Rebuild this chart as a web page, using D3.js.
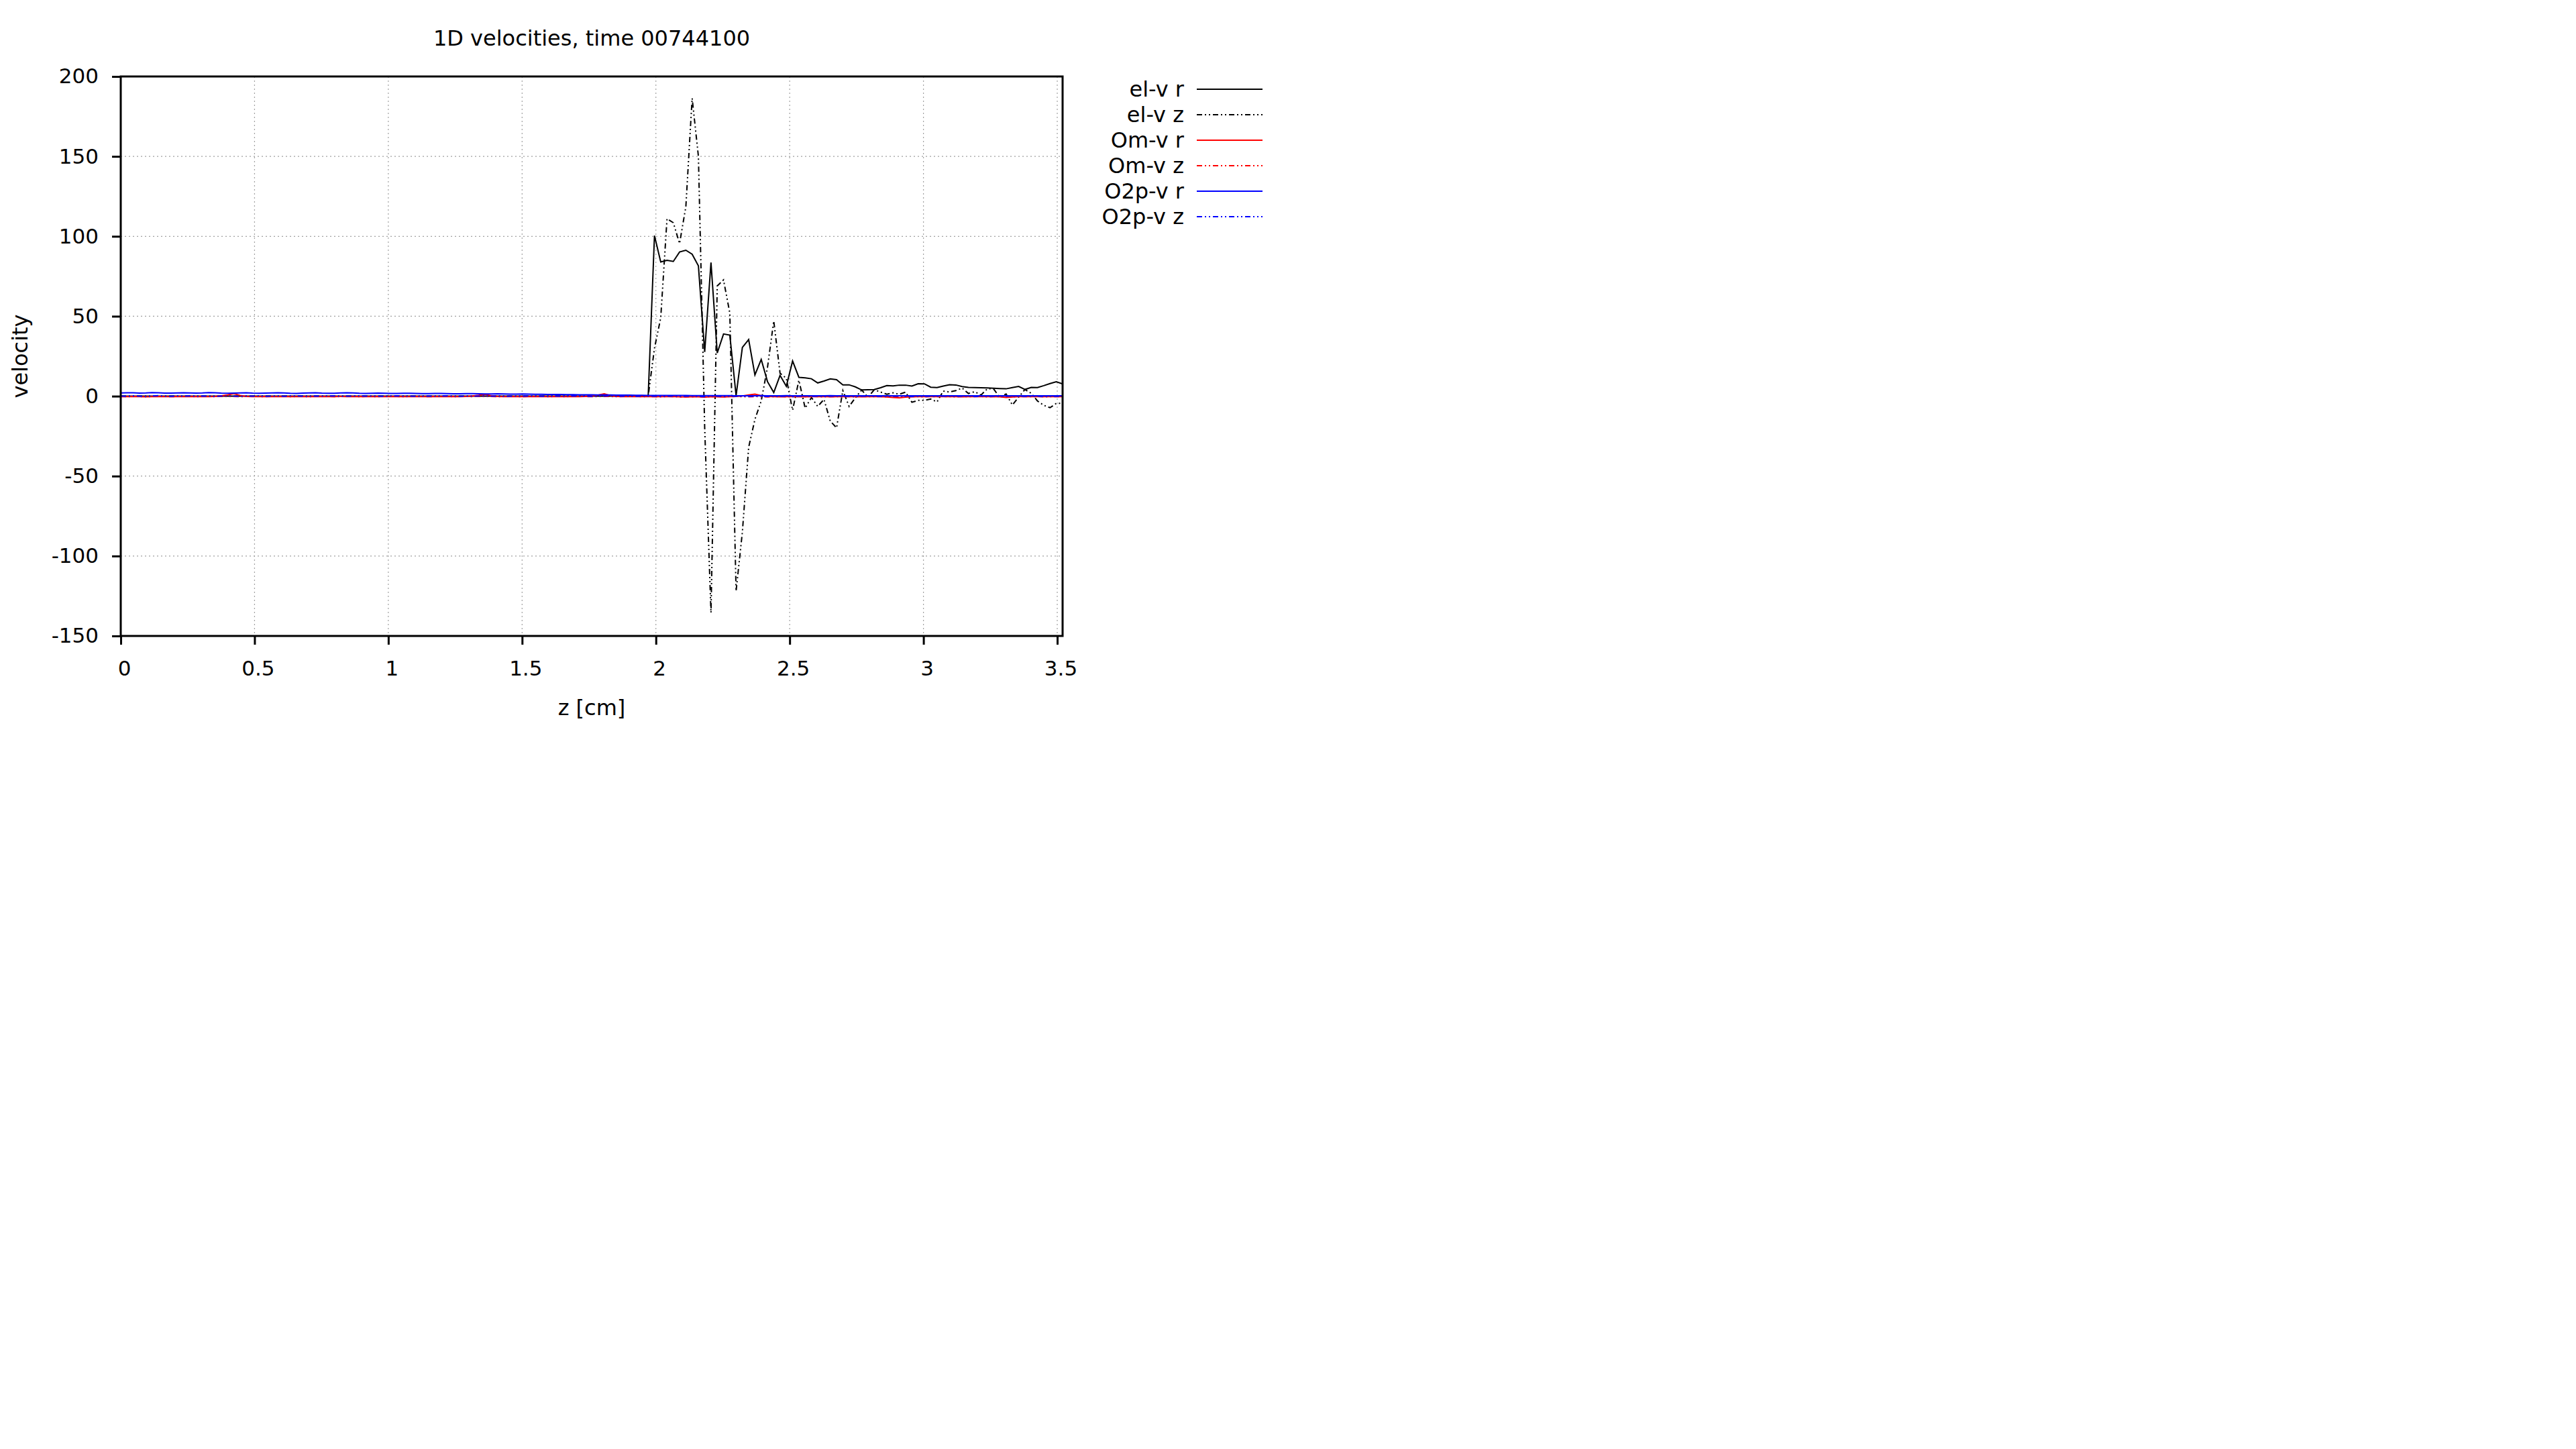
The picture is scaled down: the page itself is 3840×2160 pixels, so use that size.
<!DOCTYPE html>
<html><head><meta charset="utf-8">
<script src="https://cdn.jsdelivr.net/npm/d3@7"></script>
<style>
html,body{margin:0;padding:0;background:#fff;}
svg{display:block;}
text{font-family:'DejaVu Sans',sans-serif;fill:#000;}
</style>
</head><body>
<svg id="chart" width="3840" height="2160"></svg>
<script>
// ---- data ----
const zGrid = [
0.0000,0.0235,0.0469,0.0704,0.0939,0.1173,0.1408,0.1643,0.1877,0.2112,
0.2347,0.2581,0.2816,0.3051,0.3285,0.3520,0.3755,0.3989,0.4224,0.4459,
0.4693,0.4928,0.5163,0.5397,0.5632,0.5867,0.6101,0.6336,0.6571,0.6805,
0.7040,0.7275,0.7509,0.7744,0.7979,0.8213,0.8448,0.8683,0.8917,0.9152,
0.9387,0.9621,0.9856,1.0091,1.0325,1.0560,1.0795,1.1029,1.1264,1.1499,
1.1733,1.1968,1.2203,1.2437,1.2672,1.2907,1.3141,1.3376,1.3611,1.3845,
1.4080,1.4315,1.4549,1.4784,1.5019,1.5253,1.5488,1.5723,1.5957,1.6192,
1.6427,1.6661,1.6896,1.7131,1.7365,1.7600,1.7835,1.8069,1.8304,1.8539,
1.8773,1.9008,1.9243,1.9477,1.9712,1.9947,2.0181,2.0416,2.0651,2.0885,
2.1120,2.1355,2.1589,2.1824,2.2059,2.2293,2.2528,2.2763,2.2997,2.3232,
2.3467,2.3701,2.3936,2.4171,2.4405,2.4640,2.4875,2.5109,2.5344,2.5579,
2.5813,2.6048,2.6283,2.6517,2.6752,2.6987,2.7221,2.7456,2.7691,2.7925,
2.8160,2.8395,2.8629,2.8864,2.9099,2.9333,2.9568,2.9803,3.0037,3.0272,
3.0507,3.0741,3.0976,3.1211,3.1445,3.1680,3.1915,3.2149,3.2384,3.2619,
3.2853,3.3088,3.3323,3.3557,3.3792,3.4027,3.4261,3.4496,3.4731,3.4965,
3.5200];

const elVr = [
0,0,0,0,0,0,0,0,0,0,
0,0,0,0,0,0,0,0,0,0,
0,0,0,0,0,0,0,0,0,0,
0,0,0,0,0,0,0,0,0,0,
0,0,0,0,0,0,0,0,0,0,
0,0,0,0,0,0,0,0,0,0,
0,0,0,0,0,0,0,0,0,0,
0,0,0,0,0,0,0,0,0,0,
0,0,0,0,0,100.4,84.0,85.0,84.3,90.2,
91.3,88.8,81.5,27.7,83.6,27.0,38.9,38.2,0.4,30.5,
35.4,13.3,23.0,9.1,2.3,13.0,6.2,22.0,11.8,11.5,
10.9,8.3,9.5,10.8,10.3,7.1,7.1,5.8,3.9,4.0,
4.1,5.3,6.6,6.4,6.9,6.9,6.3,7.8,7.7,5.6,
5.4,6.3,7.2,7.0,6.0,5.5,5.4,5.3,5.2,5.0,
4.8,4.6,5.4,6.1,4.2,5.5,5.4,6.6,7.9,9.0,
7.7];

const elVz = [
0,0,0,0,0,0,0,0,0,0,
0,0,0,0,0,0,0,0,0,0,
0,0,0,0,0,0,0,0,0,0,
0,0,0,0,0,0,0,0,0,0,
0,0,0,0,0,0,0,0,0,0,
0,0,0,0,0,0,0,0,0,0,
0,0,0,0,0,0,0,0,0,0,
0,0,0,0,0,0,0,0,0,0,
0,0,0,0,0,30.0,49.0,111.0,108.5,95.5,
118.6,186.4,150.0,-20.0,-135.5,69.0,72.7,52.0,-122.0,-85.0,
-32.0,-14.5,-3.0,18.0,47.0,14.4,11.2,-8.8,10.0,-7.5,
-0.8,-6.4,-2.0,-15.6,-19.8,3.5,-6.4,-1.0,3.9,-0.7,
4.0,2.6,1.2,2.1,1.2,2.5,-3.8,-2.6,-2.6,-1.8,
-3.6,3.2,2.6,3.5,5.1,1.7,2.8,0.7,4.6,4.6,
-0.8,1.4,-5.5,-0.6,4.2,1.8,-3.0,-5.7,-7.2,-4.5,
-4.5];

const omVr = [
-0.3,-0.3,-0.2,-0.3,-0.4,-0.3,-0.2,-0.3,-0.3,-0.2,
-0.3,-0.3,-0.2,-0.3,-0.3,-0.2,0.2,0.8,1.6,0.5,
-0.2,-0.3,-0.3,-0.2,-0.3,-0.3,-0.2,-0.3,-0.3,-0.2,
-0.3,-0.3,-0.2,-0.3,-0.3,-0.2,-0.3,-0.3,-0.2,-0.3,
-0.3,-0.2,-0.3,-0.3,-0.2,-0.3,-0.3,-0.2,-0.3,-0.3,
-0.2,-0.3,-0.3,-0.2,-0.3,-0.2,0.1,0.6,1.2,0.3,
-0.2,-0.3,-0.3,-0.2,-0.3,-0.3,-0.2,-0.3,-0.3,-0.2,
-0.3,-0.3,-0.2,-0.3,-0.2,0.2,0.7,1.5,0.4,-0.2,
-0.3,-0.3,-0.2,-0.3,-0.3,-0.2,-0.3,-0.3,-0.2,-0.4,
-0.5,-0.3,-0.4,-0.6,-0.3,-0.4,-0.5,-0.3,-0.2,0.1,
0.8,1.3,0.4,-0.2,-0.3,-0.4,-0.3,-0.2,-0.3,-0.4,
-0.3,-0.3,-0.2,-0.4,-0.3,-0.3,-0.2,-0.3,-0.4,-0.3,
-0.3,-0.3,-0.5,-0.8,-1.0,-0.6,-0.4,-0.3,-0.3,-0.3,
-0.3,-0.2,-0.3,-0.3,-0.4,-0.3,-0.3,-0.2,-0.3,-0.3,
-0.4,-0.8,-0.5,-0.3,-0.3,-0.2,-0.3,-0.3,-0.3,-0.2,
-0.3];

const omVz = [
-0.2,-0.3,-0.1,-0.2,-0.3,-0.2,-0.1,-0.2,-0.3,-0.2,
-0.2,-0.1,-0.3,-0.2,-0.2,-0.3,-0.1,-0.2,-0.2,-0.3,
-0.2,-0.1,-0.2,-0.3,-0.2,-0.2,-0.1,-0.3,-0.2,-0.2,
-0.3,-0.2,-0.1,-0.2,-0.3,-0.2,-0.2,-0.1,-0.3,-0.2,
-0.2,-0.3,-0.1,-0.2,-0.2,-0.3,-0.2,-0.1,-0.2,-0.3,
-0.2,-0.2,-0.1,-0.3,-0.2,-0.2,-0.3,-0.1,-0.2,-0.2,
-0.3,-0.2,-0.1,-0.2,-0.3,-0.2,-0.2,-0.1,-0.3,-0.2,
-0.2,-0.3,-0.1,-0.2,-0.2,-0.3,-0.2,-0.1,-0.2,-0.3,
-0.2,-0.2,-0.1,-0.3,-0.2,-0.3,-0.4,-0.2,-0.3,-0.5,
-0.3,-0.4,-0.2,-0.5,-0.3,-0.2,-0.4,-0.3,-0.2,-0.3,
-0.4,-0.2,-0.3,-0.5,-0.3,-0.2,-0.4,-0.3,-0.2,-0.3,
-0.2,-0.3,-0.4,-0.2,-0.3,-0.2,-0.3,-0.4,-0.2,-0.3,
-0.3,-0.2,-0.4,-0.3,-0.5,-0.3,-0.2,-0.3,-0.4,-0.2,
-0.3,-0.2,-0.3,-0.4,-0.2,-0.3,-0.3,-0.2,-0.4,-0.3,
-0.2,-0.3,-0.4,-0.3,-0.2,-0.3,-0.2,-0.4,-0.3,-0.2,
-0.3];

const o2pVr = [
2.0,2.1,2.1,1.9,2.0,2.2,2.1,1.9,1.9,2.0,
2.1,2.0,1.9,2.0,2.2,2.1,1.9,1.8,1.9,2.0,
2.1,1.9,1.8,1.9,2.0,2.1,2.0,1.8,1.7,1.9,
2.0,2.1,1.9,1.8,1.8,2.0,2.1,2.0,1.8,1.7,
1.8,1.9,1.8,1.7,1.7,1.8,1.8,1.7,1.6,1.6,
1.7,1.7,1.6,1.5,1.5,1.6,1.6,1.5,1.4,1.4,
1.5,1.4,1.3,1.3,1.4,1.3,1.2,1.2,1.1,1.1,
1.1,1.0,1.0,0.9,0.9,0.9,0.8,0.8,0.8,0.7,
0.7,0.7,0.6,0.6,0.5,0.5,0.5,0.4,0.4,0.4,
0.4,0.3,0.3,0.3,0.3,0.3,0.3,0.3,0.2,0.2,
0.2,0.2,0.3,0.2,0.2,0.2,0.3,0.2,0.2,0.2,
0.2,0.2,0.2,0.3,0.2,0.2,0.2,0.2,0.2,0.2,
0.2,0.2,0.2,0.2,0.2,0.2,0.2,0.2,0.2,0.2,
0.2,0.2,0.2,0.2,0.2,0.2,0.2,0.2,0.2,0.2,
0.2,0.2,0.2,0.2,0.2,0.2,0.2,0.2,0.2,0.2,
0.2];

const o2pVz = [
0.1,-0.1,0.2,0.0,-0.2,0.1,0.3,0.0,-0.1,0.1,
0.0,0.2,-0.1,0.1,0.0,-0.2,0.1,0.2,0.0,-0.1,
0.1,0.0,0.2,-0.1,0.0,0.1,-0.1,0.2,0.1,0.0,
-0.1,0.1,0.0,0.2,0.1,-0.1,0.0,0.1,0.2,0.0,
0.1,0.0,-0.1,0.1,0.2,0.0,0.1,-0.1,0.0,0.1,
0.0,0.1,0.2,0.0,-0.1,0.1,0.0,0.1,0.2,0.0,
0.1,-0.1,0.0,0.1,0.0,0.2,0.1,0.0,-0.1,0.1,
0.0,0.1,0.2,0.0,0.1,-0.1,0.0,0.1,0.3,0.0,
0.1,0.0,-0.1,0.1,0.0,0.1,-0.2,0.0,0.1,-0.1,
0.0,0.1,-0.1,-0.3,0.1,0.0,-0.2,0.1,-0.1,0.0,
-0.1,0.0,0.1,-0.2,0.0,-0.1,0.1,-0.3,0.0,0.1,
-0.1,0.0,-0.2,0.1,0.0,-0.1,0.0,-0.2,0.0,0.1,
-0.1,0.0,-0.1,0.0,0.1,-0.1,-0.2,0.0,-0.1,0.0,
-0.1,0.1,0.0,-0.1,0.0,0.1,-0.2,0.0,-0.1,0.0,
-0.1,0.0,0.1,-0.1,0.0,-0.1,0.0,-0.2,-0.1,0.0,
-0.1];

const seriesNames  = ["el-v r","el-v z","Om-v r","Om-v z","O2p-v r","O2p-v z"];
const seriesValues = [elVr, elVz, omVr, omVz, o2pVr, o2pVz];
const seriesColors = ["#000000","#000000","#ff0000","#ff0000","#0000ff","#0000ff"];
const seriesDashed = [false,true,false,true,false,true];

const xTickValues = [0,0.5,1,1.5,2,2.5,3,3.5];
const xTickLabels = ["0","0.5","1","1.5","2","2.5","3","3.5"];
const yTickValues = [-150,-100,-50,0,50,100,150,200];
const yTickLabels = ["-150","-100","-50","0","50","100","150","200"];
const titleText = "1D velocities, time 00744100";
const xLabelText = "z [cm]";
const yLabelText = "velocity";

// ---- layout ----
const L = 180, R = 1584, T = 114, B = 948;
const FS = 32, FS_TICK = 31;
const dashPattern = "8,4,2,4,2,4";

const svg = d3.select("#chart");
svg.append("rect").attr("width",3840).attr("height",2160).attr("fill","#fff");

const x = d3.scaleLinear().domain([0, 3.52]).range([L, R]);
const y = d3.scaleLinear().domain([-150, 200]).range([B, T]);

// grid
const grid = svg.append("g");
grid.selectAll("line.gx").data(xTickValues.filter(v => v > 0)).enter().append("line")
  .attr("x1", d => x(d)).attr("x2", d => x(d)).attr("y1", T).attr("y2", B)
  .attr("stroke", "#a0a0a0").attr("stroke-width", 1.2).attr("stroke-dasharray", "2,4");
grid.selectAll("line.gy").data(yTickValues.filter(v => v > -150 && v < 200)).enter().append("line")
  .attr("y1", d => y(d)).attr("y2", d => y(d)).attr("x1", L).attr("x2", R)
  .attr("stroke", "#a0a0a0").attr("stroke-width", 1.2).attr("stroke-dasharray", "2,4");

// axes
const xAxis = d3.axisBottom(x).tickValues(xTickValues)
  .tickFormat((d, i) => xTickLabels[i]).tickSize(13).tickPadding(24);
const yAxis = d3.axisLeft(y).tickValues(yTickValues)
  .tickFormat((d, i) => yTickLabels[i]).tickSize(13).tickPadding(20);

const gx = svg.append("g").attr("transform", `translate(0,${B})`).call(xAxis);
const gy = svg.append("g").attr("transform", `translate(${L},0)`).call(yAxis);
[gx, gy].forEach(g => {
  g.select(".domain").remove();
  g.selectAll(".tick line").attr("stroke", "#000").attr("stroke-width", 3);
  g.selectAll(".tick text").attr("font-size", FS_TICK).attr("font-family", "DejaVu Sans").attr("fill", "#000");
});
gx.selectAll(".tick text").attr("dx", 5);

// clip
svg.append("clipPath").attr("id", "clip").append("rect")
  .attr("x", L).attr("y", T).attr("width", R - L).attr("height", B - T);

const line = d3.line().x((d, i) => x(zGrid[i])).y(d => y(d)).curve(d3.curveLinear);
const plotG = svg.append("g").attr("clip-path", "url(#clip)");
seriesValues.forEach((vals, k) => {
  plotG.append("path").datum(vals)
    .attr("d", line)
    .attr("fill", "none")
    .attr("stroke", seriesColors[k])
    .attr("stroke-width", 2)
    .attr("stroke-linejoin", "miter")
    .attr("stroke-dasharray", seriesDashed[k] ? dashPattern : null);
});

// border
svg.append("rect").attr("x", L).attr("y", T).attr("width", R - L).attr("height", B - T)
  .attr("fill", "none").attr("stroke", "#000").attr("stroke-width", 3);

// title & labels
svg.append("text").attr("x", (L + R) / 2).attr("y", 68).attr("text-anchor", "middle")
  .attr("font-size", FS).text(titleText);
svg.append("text").attr("x", (L + R) / 2).attr("y", 1066).attr("text-anchor", "middle")
  .attr("font-size", FS).text(xLabelText);
svg.append("text").attr("transform", `translate(41,${(T + B) / 2}) rotate(-90)`)
  .attr("text-anchor", "middle").attr("font-size", FS).text(yLabelText);

// legend
const legend = svg.append("g");
seriesNames.forEach((name, k) => {
  const cy = 133 + k * 38;
  legend.append("text").attr("x", 1765).attr("y", cy).attr("dy", "0.35em")
    .attr("text-anchor", "end").attr("font-size", FS).text(name);
  legend.append("line").attr("x1", 1784).attr("x2", 1882).attr("y1", cy).attr("y2", cy)
    .attr("stroke", seriesColors[k]).attr("stroke-width", 2)
    .attr("stroke-dasharray", seriesDashed[k] ? dashPattern : null);
});
</script>
</body></html>
